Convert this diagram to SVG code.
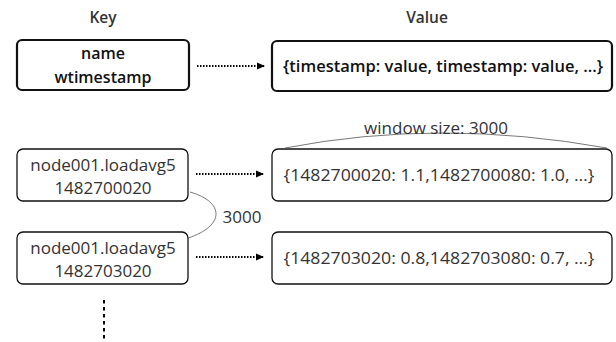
<svg xmlns="http://www.w3.org/2000/svg" width="616" height="342" viewBox="0 0 616 342">
<defs>
<marker id="ah" markerWidth="8" markerHeight="8" refX="7" refY="4" orient="auto" markerUnits="userSpaceOnUse">
<path d="M0,0.5 L8,4 L0,7.5 Z" fill="#000"/>
</marker>
<style>
.hd{font-family:"Open Sans",Lato,sans-serif;font-weight:600;font-size:15.5px;fill:#333;text-anchor:middle}
.bt{font-family:"Open Sans",Lato,sans-serif;font-weight:600;font-size:16px;fill:#111;text-anchor:middle}
.lt{font-family:"Open Sans",Lato,sans-serif;font-weight:400;font-size:17px;fill:#333;text-anchor:middle}
.box{fill:#fff;stroke:#111;stroke-width:1.3}
.boxb{fill:#fff;stroke:#111;stroke-width:2.2}
.dot{stroke:#000;stroke-width:2;stroke-dasharray:1.5 1.5;fill:none}
.thin{stroke:#555;stroke-width:0.8;fill:none}
</style>
</defs>
<text class="hd" x="103" y="23">Key</text>
<text class="hd" x="427" y="23">Value</text>
<g id="key-header">
<rect class="boxb" x="17" y="40" width="172" height="50" rx="5"/>
<text class="bt" x="103" y="59">name</text>
<text class="bt" x="103" y="83">wtimestamp</text>
</g>
<g id="value-header">
<rect class="boxb" x="272" y="41" width="340" height="50" rx="5"/>
<text class="bt" x="443" y="72" textLength="320" lengthAdjust="spacingAndGlyphs">{timestamp: value, timestamp: value, …}</text>
</g>
<g id="key1">
<rect class="box" x="17" y="149" width="171" height="52" rx="6"/>
<text class="lt" x="103" y="171">node001.loadavg5</text>
<text class="lt" x="103" y="194">1482700020</text>
</g>
<g id="value1">
<rect class="box" x="272" y="149" width="340" height="52" rx="6"/>
<text class="lt" x="439" y="181" textLength="311" lengthAdjust="spacingAndGlyphs">{1482700020: 1.1,1482700080: 1.0, …}</text>
</g>
<g id="key2">
<rect class="box" x="17" y="232" width="171" height="52" rx="6"/>
<text class="lt" x="103" y="254">node001.loadavg5</text>
<text class="lt" x="103" y="277">1482703020</text>
</g>
<g id="value2">
<rect class="box" x="272" y="232" width="340" height="52" rx="6"/>
<text class="lt" x="439" y="264" textLength="311" lengthAdjust="spacingAndGlyphs">{1482703020: 0.8,1482703080: 0.7, …}</text>
</g>
<g id="connectors">
<line class="dot" x1="197" y1="66" x2="264" y2="66" marker-end="url(#ah)"/>
<line class="dot" x1="196" y1="174" x2="263" y2="174" marker-end="url(#ah)"/>
<line class="dot" x1="196" y1="257" x2="263" y2="257" marker-end="url(#ah)"/>
<path class="thin" d="M190,192 C225,202 225,226 188,238"/>
<text class="lt" x="242" y="223">3000</text>
<path class="thin" d="M285,148 Q440,118 607,148"/>
<text class="lt" x="436" y="134">window size: 3000</text>
<line x1="104" y1="300" x2="104" y2="340" stroke="#000" stroke-width="2" stroke-dasharray="3.5 3.5"/>
</g>
</svg>
